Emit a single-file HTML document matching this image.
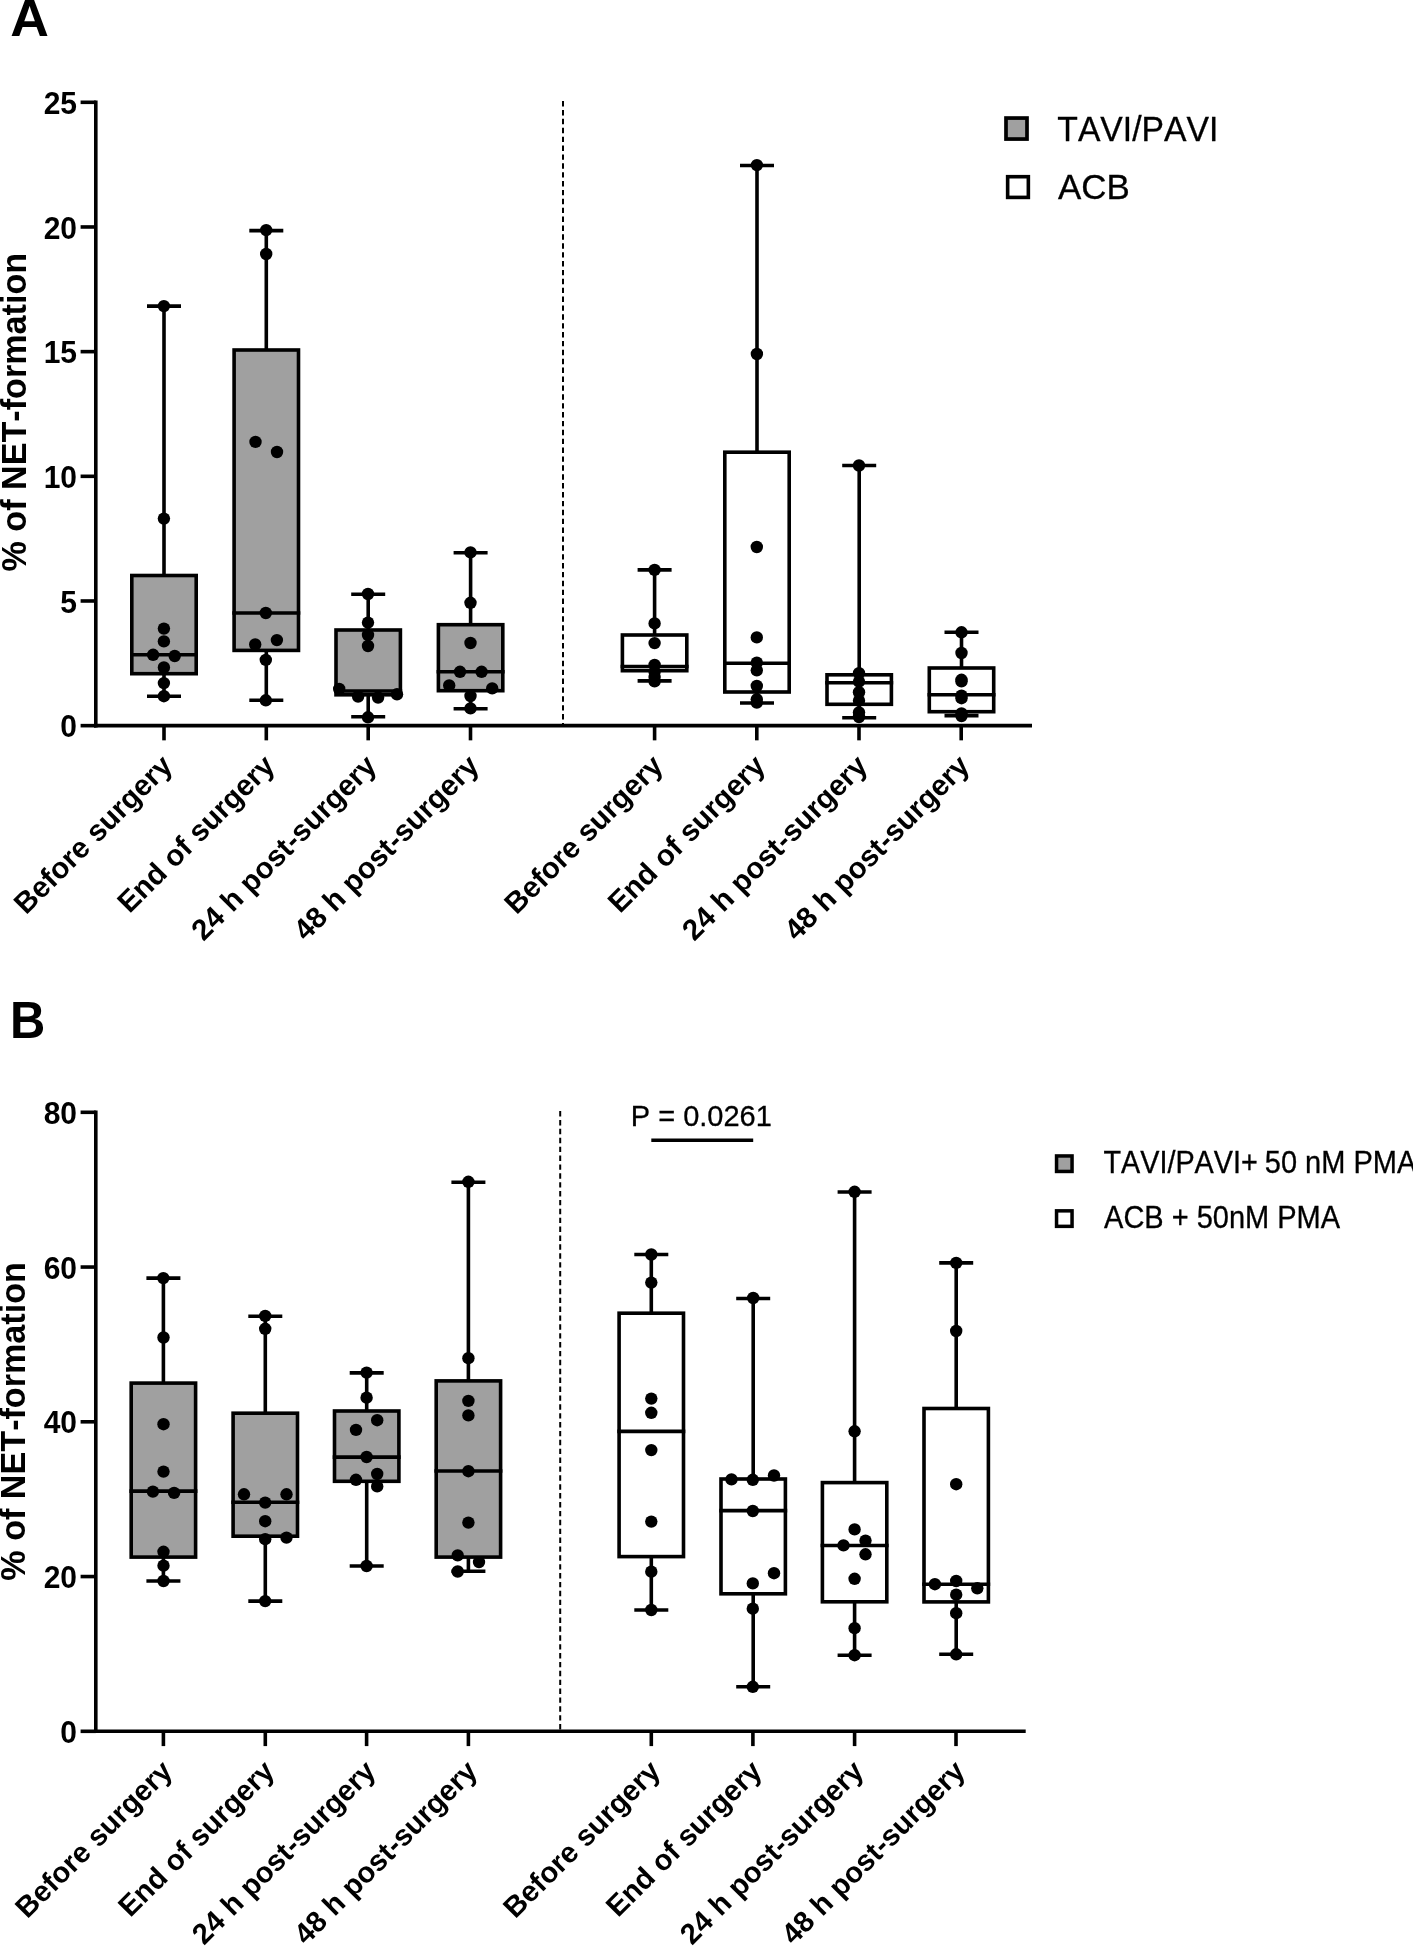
<!DOCTYPE html>
<html><head><meta charset="utf-8"><title>NET-formation box plots</title>
<style>
html,body{margin:0;padding:0;background:#fff;}
body{width:1413px;height:1946px;overflow:hidden;font-family:"Liberation Sans",sans-serif;}
svg{display:block;will-change:transform;}
svg text{font-family:"Liberation Sans",sans-serif;fill:#000;font-kerning:none;}
</style></head>
<body>
<svg width="1413" height="1946" viewBox="0 0 1413 1946">
<rect x="0" y="0" width="1413" height="1946" fill="#fff"/>
<text x="0" y="0" font-size="51.5" font-weight="bold" text-anchor="start" transform="translate(10.20,36.10) scale(1.04,1.0)">A</text>
<line x1="563.00" y1="101.10" x2="563.00" y2="725.65" stroke="#000" stroke-width="2.0" stroke-dasharray="5.4 3.484"/>
<line x1="164.00" y1="306.10" x2="164.00" y2="575.50" stroke="#000" stroke-width="3.6" />
<line x1="164.00" y1="673.70" x2="164.00" y2="696.20" stroke="#000" stroke-width="3.6" />
<line x1="147.00" y1="306.10" x2="181.00" y2="306.10" stroke="#000" stroke-width="3.6" />
<line x1="147.00" y1="696.20" x2="181.00" y2="696.20" stroke="#000" stroke-width="3.6" />
<rect x="131.80" y="575.50" width="64.40" height="98.20" fill="#a0a0a0" stroke="#000" stroke-width="3.6"/>
<line x1="130.00" y1="654.80" x2="198.00" y2="654.80" stroke="#000" stroke-width="3.6" />
<circle cx="163.90" cy="306.10" r="6.2" fill="#000"/>
<circle cx="163.90" cy="518.60" r="6.2" fill="#000"/>
<circle cx="163.90" cy="628.60" r="6.2" fill="#000"/>
<circle cx="163.90" cy="641.40" r="6.2" fill="#000"/>
<circle cx="153.10" cy="654.80" r="6.2" fill="#000"/>
<circle cx="174.70" cy="656.00" r="6.2" fill="#000"/>
<circle cx="163.90" cy="667.50" r="6.2" fill="#000"/>
<circle cx="163.90" cy="683.10" r="6.2" fill="#000"/>
<circle cx="163.90" cy="696.20" r="6.2" fill="#000"/>
<line x1="266.30" y1="230.60" x2="266.30" y2="350.00" stroke="#000" stroke-width="3.6" />
<line x1="266.30" y1="650.40" x2="266.30" y2="700.30" stroke="#000" stroke-width="3.6" />
<line x1="249.30" y1="230.60" x2="283.30" y2="230.60" stroke="#000" stroke-width="3.6" />
<line x1="249.30" y1="700.30" x2="283.30" y2="700.30" stroke="#000" stroke-width="3.6" />
<rect x="234.10" y="350.00" width="64.40" height="300.40" fill="#a0a0a0" stroke="#000" stroke-width="3.6"/>
<line x1="232.30" y1="613.00" x2="300.30" y2="613.00" stroke="#000" stroke-width="3.6" />
<circle cx="266.20" cy="230.10" r="6.2" fill="#000"/>
<circle cx="266.20" cy="254.00" r="6.2" fill="#000"/>
<circle cx="255.50" cy="441.90" r="6.2" fill="#000"/>
<circle cx="277.00" cy="452.00" r="6.2" fill="#000"/>
<circle cx="265.80" cy="613.00" r="6.2" fill="#000"/>
<circle cx="276.90" cy="640.10" r="6.2" fill="#000"/>
<circle cx="255.20" cy="644.50" r="6.2" fill="#000"/>
<circle cx="265.80" cy="659.90" r="6.2" fill="#000"/>
<circle cx="265.80" cy="700.30" r="6.2" fill="#000"/>
<line x1="368.20" y1="594.30" x2="368.20" y2="630.00" stroke="#000" stroke-width="3.6" />
<line x1="368.20" y1="694.80" x2="368.20" y2="716.70" stroke="#000" stroke-width="3.6" />
<line x1="351.20" y1="594.30" x2="385.20" y2="594.30" stroke="#000" stroke-width="3.6" />
<line x1="351.20" y1="716.70" x2="385.20" y2="716.70" stroke="#000" stroke-width="3.6" />
<rect x="336.00" y="630.00" width="64.40" height="64.80" fill="#a0a0a0" stroke="#000" stroke-width="3.6"/>
<line x1="334.20" y1="691.00" x2="402.20" y2="691.00" stroke="#000" stroke-width="3.6" />
<circle cx="368.00" cy="594.00" r="6.2" fill="#000"/>
<circle cx="368.00" cy="622.60" r="6.2" fill="#000"/>
<circle cx="368.00" cy="635.00" r="6.2" fill="#000"/>
<circle cx="368.00" cy="646.00" r="6.2" fill="#000"/>
<circle cx="339.20" cy="689.00" r="6.2" fill="#000"/>
<circle cx="358.10" cy="696.60" r="6.2" fill="#000"/>
<circle cx="378.10" cy="697.50" r="6.2" fill="#000"/>
<circle cx="397.00" cy="694.30" r="6.2" fill="#000"/>
<circle cx="368.00" cy="717.30" r="6.2" fill="#000"/>
<line x1="470.60" y1="552.70" x2="470.60" y2="624.70" stroke="#000" stroke-width="3.6" />
<line x1="470.60" y1="690.70" x2="470.60" y2="708.80" stroke="#000" stroke-width="3.6" />
<line x1="453.60" y1="552.70" x2="487.60" y2="552.70" stroke="#000" stroke-width="3.6" />
<line x1="453.60" y1="708.80" x2="487.60" y2="708.80" stroke="#000" stroke-width="3.6" />
<rect x="438.40" y="624.70" width="64.40" height="66.00" fill="#a0a0a0" stroke="#000" stroke-width="3.6"/>
<line x1="436.60" y1="671.80" x2="504.60" y2="671.80" stroke="#000" stroke-width="3.6" />
<circle cx="470.50" cy="552.40" r="6.2" fill="#000"/>
<circle cx="470.50" cy="602.80" r="6.2" fill="#000"/>
<circle cx="470.50" cy="643.00" r="6.2" fill="#000"/>
<circle cx="460.00" cy="671.80" r="6.2" fill="#000"/>
<circle cx="481.60" cy="671.80" r="6.2" fill="#000"/>
<circle cx="449.20" cy="685.40" r="6.2" fill="#000"/>
<circle cx="492.20" cy="688.40" r="6.2" fill="#000"/>
<circle cx="470.50" cy="696.00" r="6.2" fill="#000"/>
<circle cx="470.50" cy="708.40" r="6.2" fill="#000"/>
<line x1="654.60" y1="569.90" x2="654.60" y2="635.00" stroke="#000" stroke-width="3.6" />
<line x1="654.60" y1="670.70" x2="654.60" y2="680.90" stroke="#000" stroke-width="3.6" />
<line x1="637.60" y1="569.90" x2="671.60" y2="569.90" stroke="#000" stroke-width="3.6" />
<line x1="637.60" y1="680.90" x2="671.60" y2="680.90" stroke="#000" stroke-width="3.6" />
<rect x="622.40" y="635.00" width="64.40" height="35.70" fill="#fff" stroke="#000" stroke-width="3.6"/>
<line x1="620.60" y1="666.50" x2="688.60" y2="666.50" stroke="#000" stroke-width="3.6" />
<circle cx="654.60" cy="569.90" r="6.2" fill="#000"/>
<circle cx="654.60" cy="623.40" r="6.2" fill="#000"/>
<circle cx="654.60" cy="643.10" r="6.2" fill="#000"/>
<circle cx="654.60" cy="665.00" r="6.2" fill="#000"/>
<circle cx="654.60" cy="671.80" r="6.2" fill="#000"/>
<circle cx="654.60" cy="677.10" r="6.2" fill="#000"/>
<circle cx="654.60" cy="681.40" r="6.2" fill="#000"/>
<line x1="757.00" y1="165.50" x2="757.00" y2="452.20" stroke="#000" stroke-width="3.6" />
<line x1="757.00" y1="692.00" x2="757.00" y2="703.00" stroke="#000" stroke-width="3.6" />
<line x1="740.00" y1="165.50" x2="774.00" y2="165.50" stroke="#000" stroke-width="3.6" />
<line x1="740.00" y1="703.00" x2="774.00" y2="703.00" stroke="#000" stroke-width="3.6" />
<rect x="724.80" y="452.20" width="64.40" height="239.80" fill="#fff" stroke="#000" stroke-width="3.6"/>
<line x1="723.00" y1="663.30" x2="791.00" y2="663.30" stroke="#000" stroke-width="3.6" />
<circle cx="756.90" cy="165.10" r="6.2" fill="#000"/>
<circle cx="756.90" cy="354.00" r="6.2" fill="#000"/>
<circle cx="756.80" cy="547.00" r="6.2" fill="#000"/>
<circle cx="756.80" cy="637.40" r="6.2" fill="#000"/>
<circle cx="756.80" cy="662.70" r="6.2" fill="#000"/>
<circle cx="756.80" cy="670.30" r="6.2" fill="#000"/>
<circle cx="756.80" cy="686.00" r="6.2" fill="#000"/>
<circle cx="756.80" cy="699.30" r="6.2" fill="#000"/>
<circle cx="756.80" cy="702.60" r="6.2" fill="#000"/>
<line x1="859.20" y1="465.50" x2="859.20" y2="674.80" stroke="#000" stroke-width="3.6" />
<line x1="859.20" y1="704.30" x2="859.20" y2="717.70" stroke="#000" stroke-width="3.6" />
<line x1="842.20" y1="465.50" x2="876.20" y2="465.50" stroke="#000" stroke-width="3.6" />
<line x1="842.20" y1="717.70" x2="876.20" y2="717.70" stroke="#000" stroke-width="3.6" />
<rect x="827.00" y="674.80" width="64.40" height="29.50" fill="#fff" stroke="#000" stroke-width="3.6"/>
<line x1="825.20" y1="682.70" x2="893.20" y2="682.70" stroke="#000" stroke-width="3.6" />
<circle cx="859.00" cy="465.50" r="6.2" fill="#000"/>
<circle cx="859.00" cy="673.10" r="6.2" fill="#000"/>
<circle cx="859.00" cy="681.60" r="6.2" fill="#000"/>
<circle cx="859.00" cy="692.20" r="6.2" fill="#000"/>
<circle cx="859.00" cy="700.70" r="6.2" fill="#000"/>
<circle cx="859.00" cy="712.40" r="6.2" fill="#000"/>
<circle cx="859.00" cy="717.00" r="6.2" fill="#000"/>
<line x1="961.50" y1="632.30" x2="961.50" y2="668.00" stroke="#000" stroke-width="3.6" />
<line x1="961.50" y1="711.70" x2="961.50" y2="715.60" stroke="#000" stroke-width="3.6" />
<line x1="944.50" y1="632.30" x2="978.50" y2="632.30" stroke="#000" stroke-width="3.6" />
<line x1="944.50" y1="715.60" x2="978.50" y2="715.60" stroke="#000" stroke-width="3.6" />
<rect x="929.30" y="668.00" width="64.40" height="43.70" fill="#fff" stroke="#000" stroke-width="3.6"/>
<line x1="927.50" y1="694.80" x2="995.50" y2="694.80" stroke="#000" stroke-width="3.6" />
<circle cx="961.50" cy="632.30" r="6.2" fill="#000"/>
<circle cx="961.50" cy="653.00" r="6.2" fill="#000"/>
<circle cx="961.50" cy="679.80" r="6.2" fill="#000"/>
<circle cx="961.50" cy="681.40" r="6.2" fill="#000"/>
<circle cx="961.50" cy="695.60" r="6.2" fill="#000"/>
<circle cx="961.50" cy="698.20" r="6.2" fill="#000"/>
<circle cx="961.50" cy="713.50" r="6.2" fill="#000"/>
<circle cx="961.50" cy="716.10" r="6.2" fill="#000"/>
<line x1="95.80" y1="100.45" x2="95.80" y2="727.45" stroke="#000" stroke-width="3.6" />
<line x1="94.00" y1="725.65" x2="1032.00" y2="725.65" stroke="#000" stroke-width="3.6" />
<line x1="80.60" y1="725.65" x2="95.80" y2="725.65" stroke="#000" stroke-width="3.6" />
<text x="0" y="0" font-size="30" font-weight="bold" text-anchor="end" transform="translate(77.00,737.25) scale(1.0,1.04)">0</text>
<line x1="80.60" y1="600.98" x2="95.80" y2="600.98" stroke="#000" stroke-width="3.6" />
<text x="0" y="0" font-size="30" font-weight="bold" text-anchor="end" transform="translate(77.00,612.58) scale(1.0,1.04)">5</text>
<line x1="80.60" y1="476.31" x2="95.80" y2="476.31" stroke="#000" stroke-width="3.6" />
<text x="0" y="0" font-size="30" font-weight="bold" text-anchor="end" transform="translate(77.00,487.91) scale(1.0,1.04)">10</text>
<line x1="80.60" y1="351.64" x2="95.80" y2="351.64" stroke="#000" stroke-width="3.6" />
<text x="0" y="0" font-size="30" font-weight="bold" text-anchor="end" transform="translate(77.00,363.24) scale(1.0,1.04)">15</text>
<line x1="80.60" y1="226.97" x2="95.80" y2="226.97" stroke="#000" stroke-width="3.6" />
<text x="0" y="0" font-size="30" font-weight="bold" text-anchor="end" transform="translate(77.00,238.57) scale(1.0,1.04)">20</text>
<line x1="80.60" y1="102.30" x2="95.80" y2="102.30" stroke="#000" stroke-width="3.6" />
<text x="0" y="0" font-size="30" font-weight="bold" text-anchor="end" transform="translate(77.00,113.90) scale(1.0,1.04)">25</text>
<line x1="164.00" y1="725.65" x2="164.00" y2="740.35" stroke="#000" stroke-width="3.6" />
<text x="0.00" y="0.00" font-size="29.45" font-weight="bold" text-anchor="end" transform="translate(174.00,767.45) rotate(-45)">Before surgery</text>
<line x1="266.30" y1="725.65" x2="266.30" y2="740.35" stroke="#000" stroke-width="3.6" />
<text x="0.00" y="0.00" font-size="29.45" font-weight="bold" text-anchor="end" transform="translate(276.30,767.45) rotate(-45)">End of surgery</text>
<line x1="368.20" y1="725.65" x2="368.20" y2="740.35" stroke="#000" stroke-width="3.6" />
<text x="0.00" y="0.00" font-size="29.45" font-weight="bold" text-anchor="end" transform="translate(378.20,767.45) rotate(-45)">24 h post-surgery</text>
<line x1="470.50" y1="725.65" x2="470.50" y2="740.35" stroke="#000" stroke-width="3.6" />
<text x="0.00" y="0.00" font-size="29.45" font-weight="bold" text-anchor="end" transform="translate(480.50,767.45) rotate(-45)">48 h post-surgery</text>
<line x1="654.60" y1="725.65" x2="654.60" y2="740.35" stroke="#000" stroke-width="3.6" />
<text x="0.00" y="0.00" font-size="29.45" font-weight="bold" text-anchor="end" transform="translate(664.60,767.45) rotate(-45)">Before surgery</text>
<line x1="756.80" y1="725.65" x2="756.80" y2="740.35" stroke="#000" stroke-width="3.6" />
<text x="0.00" y="0.00" font-size="29.45" font-weight="bold" text-anchor="end" transform="translate(766.80,767.45) rotate(-45)">End of surgery</text>
<line x1="859.00" y1="725.65" x2="859.00" y2="740.35" stroke="#000" stroke-width="3.6" />
<text x="0.00" y="0.00" font-size="29.45" font-weight="bold" text-anchor="end" transform="translate(869.00,767.45) rotate(-45)">24 h post-surgery</text>
<line x1="961.20" y1="725.65" x2="961.20" y2="740.35" stroke="#000" stroke-width="3.6" />
<text x="0.00" y="0.00" font-size="29.45" font-weight="bold" text-anchor="end" transform="translate(971.20,767.45) rotate(-45)">48 h post-surgery</text>
<text x="0" y="0" font-size="34.15" font-weight="bold" text-anchor="middle" transform="translate(25.70,412.20) rotate(-90) scale(1.0,1.015)">% of NET-formation</text>
<text x="0" y="0" font-size="51.5" font-weight="bold" text-anchor="start" transform="translate(9.95,1037.80) scale(0.95,1.0)">B</text>
<line x1="560.20" y1="1111.10" x2="560.20" y2="1731.30" stroke="#000" stroke-width="2.0" stroke-dasharray="5.4 3.484"/>
<line x1="163.40" y1="1278.10" x2="163.40" y2="1383.10" stroke="#000" stroke-width="3.6" />
<line x1="163.40" y1="1557.10" x2="163.40" y2="1581.00" stroke="#000" stroke-width="3.6" />
<line x1="146.40" y1="1278.10" x2="180.40" y2="1278.10" stroke="#000" stroke-width="3.6" />
<line x1="146.40" y1="1581.00" x2="180.40" y2="1581.00" stroke="#000" stroke-width="3.6" />
<rect x="131.20" y="1383.10" width="64.40" height="174.00" fill="#a0a0a0" stroke="#000" stroke-width="3.6"/>
<line x1="129.40" y1="1491.10" x2="197.40" y2="1491.10" stroke="#000" stroke-width="3.6" />
<circle cx="163.30" cy="1278.10" r="6.2" fill="#000"/>
<circle cx="163.50" cy="1337.50" r="6.2" fill="#000"/>
<circle cx="163.50" cy="1424.20" r="6.2" fill="#000"/>
<circle cx="163.50" cy="1471.60" r="6.2" fill="#000"/>
<circle cx="152.90" cy="1491.60" r="6.2" fill="#000"/>
<circle cx="174.10" cy="1492.90" r="6.2" fill="#000"/>
<circle cx="163.50" cy="1551.80" r="6.2" fill="#000"/>
<circle cx="163.50" cy="1565.70" r="6.2" fill="#000"/>
<circle cx="163.50" cy="1581.00" r="6.2" fill="#000"/>
<line x1="265.30" y1="1316.30" x2="265.30" y2="1413.20" stroke="#000" stroke-width="3.6" />
<line x1="265.30" y1="1536.20" x2="265.30" y2="1601.10" stroke="#000" stroke-width="3.6" />
<line x1="248.30" y1="1316.30" x2="282.30" y2="1316.30" stroke="#000" stroke-width="3.6" />
<line x1="248.30" y1="1601.10" x2="282.30" y2="1601.10" stroke="#000" stroke-width="3.6" />
<rect x="233.10" y="1413.20" width="64.40" height="123.00" fill="#a0a0a0" stroke="#000" stroke-width="3.6"/>
<line x1="231.30" y1="1502.20" x2="299.30" y2="1502.20" stroke="#000" stroke-width="3.6" />
<circle cx="265.20" cy="1315.90" r="6.2" fill="#000"/>
<circle cx="265.20" cy="1328.80" r="6.2" fill="#000"/>
<circle cx="244.00" cy="1494.30" r="6.2" fill="#000"/>
<circle cx="286.50" cy="1494.30" r="6.2" fill="#000"/>
<circle cx="265.20" cy="1502.60" r="6.2" fill="#000"/>
<circle cx="265.20" cy="1521.20" r="6.2" fill="#000"/>
<circle cx="265.20" cy="1539.20" r="6.2" fill="#000"/>
<circle cx="286.50" cy="1537.60" r="6.2" fill="#000"/>
<circle cx="265.20" cy="1601.10" r="6.2" fill="#000"/>
<line x1="366.70" y1="1372.90" x2="366.70" y2="1411.00" stroke="#000" stroke-width="3.6" />
<line x1="366.70" y1="1481.30" x2="366.70" y2="1566.00" stroke="#000" stroke-width="3.6" />
<line x1="349.70" y1="1372.90" x2="383.70" y2="1372.90" stroke="#000" stroke-width="3.6" />
<line x1="349.70" y1="1566.00" x2="383.70" y2="1566.00" stroke="#000" stroke-width="3.6" />
<rect x="334.50" y="1411.00" width="64.40" height="70.30" fill="#a0a0a0" stroke="#000" stroke-width="3.6"/>
<line x1="332.70" y1="1457.10" x2="400.70" y2="1457.10" stroke="#000" stroke-width="3.6" />
<circle cx="366.60" cy="1372.60" r="6.2" fill="#000"/>
<circle cx="366.60" cy="1397.70" r="6.2" fill="#000"/>
<circle cx="377.20" cy="1420.20" r="6.2" fill="#000"/>
<circle cx="356.00" cy="1429.90" r="6.2" fill="#000"/>
<circle cx="366.60" cy="1457.00" r="6.2" fill="#000"/>
<circle cx="377.20" cy="1474.00" r="6.2" fill="#000"/>
<circle cx="356.00" cy="1479.80" r="6.2" fill="#000"/>
<circle cx="377.20" cy="1486.40" r="6.2" fill="#000"/>
<circle cx="366.60" cy="1566.00" r="6.2" fill="#000"/>
<line x1="468.40" y1="1182.20" x2="468.40" y2="1380.90" stroke="#000" stroke-width="3.6" />
<line x1="468.40" y1="1557.10" x2="468.40" y2="1571.30" stroke="#000" stroke-width="3.6" />
<line x1="451.40" y1="1182.20" x2="485.40" y2="1182.20" stroke="#000" stroke-width="3.6" />
<line x1="451.40" y1="1571.30" x2="485.40" y2="1571.30" stroke="#000" stroke-width="3.6" />
<rect x="436.20" y="1380.90" width="64.40" height="176.20" fill="#a0a0a0" stroke="#000" stroke-width="3.6"/>
<line x1="434.40" y1="1471.00" x2="502.40" y2="1471.00" stroke="#000" stroke-width="3.6" />
<circle cx="468.40" cy="1181.80" r="6.2" fill="#000"/>
<circle cx="468.40" cy="1358.20" r="6.2" fill="#000"/>
<circle cx="468.40" cy="1400.90" r="6.2" fill="#000"/>
<circle cx="468.40" cy="1415.40" r="6.2" fill="#000"/>
<circle cx="468.40" cy="1471.20" r="6.2" fill="#000"/>
<circle cx="468.40" cy="1522.60" r="6.2" fill="#000"/>
<circle cx="457.70" cy="1555.40" r="6.2" fill="#000"/>
<circle cx="479.00" cy="1562.10" r="6.2" fill="#000"/>
<circle cx="457.70" cy="1571.50" r="6.2" fill="#000"/>
<line x1="651.30" y1="1254.50" x2="651.30" y2="1313.20" stroke="#000" stroke-width="3.6" />
<line x1="651.30" y1="1556.60" x2="651.30" y2="1610.00" stroke="#000" stroke-width="3.6" />
<line x1="634.30" y1="1254.50" x2="668.30" y2="1254.50" stroke="#000" stroke-width="3.6" />
<line x1="634.30" y1="1610.00" x2="668.30" y2="1610.00" stroke="#000" stroke-width="3.6" />
<rect x="619.10" y="1313.20" width="64.40" height="243.40" fill="#fff" stroke="#000" stroke-width="3.6"/>
<line x1="617.30" y1="1431.40" x2="685.30" y2="1431.40" stroke="#000" stroke-width="3.6" />
<circle cx="651.30" cy="1254.50" r="6.2" fill="#000"/>
<circle cx="651.30" cy="1282.60" r="6.2" fill="#000"/>
<circle cx="651.30" cy="1398.60" r="6.2" fill="#000"/>
<circle cx="651.30" cy="1412.80" r="6.2" fill="#000"/>
<circle cx="651.30" cy="1450.10" r="6.2" fill="#000"/>
<circle cx="651.30" cy="1521.60" r="6.2" fill="#000"/>
<circle cx="651.30" cy="1571.70" r="6.2" fill="#000"/>
<circle cx="651.30" cy="1610.00" r="6.2" fill="#000"/>
<line x1="753.20" y1="1298.50" x2="753.20" y2="1479.00" stroke="#000" stroke-width="3.6" />
<line x1="753.20" y1="1593.80" x2="753.20" y2="1686.80" stroke="#000" stroke-width="3.6" />
<line x1="736.20" y1="1298.50" x2="770.20" y2="1298.50" stroke="#000" stroke-width="3.6" />
<line x1="736.20" y1="1686.80" x2="770.20" y2="1686.80" stroke="#000" stroke-width="3.6" />
<rect x="721.00" y="1479.00" width="64.40" height="114.80" fill="#fff" stroke="#000" stroke-width="3.6"/>
<line x1="719.20" y1="1510.60" x2="787.20" y2="1510.60" stroke="#000" stroke-width="3.6" />
<circle cx="753.20" cy="1298.00" r="6.2" fill="#000"/>
<circle cx="731.50" cy="1479.40" r="6.2" fill="#000"/>
<circle cx="752.80" cy="1479.80" r="6.2" fill="#000"/>
<circle cx="774.00" cy="1475.50" r="6.2" fill="#000"/>
<circle cx="752.80" cy="1511.00" r="6.2" fill="#000"/>
<circle cx="774.00" cy="1573.20" r="6.2" fill="#000"/>
<circle cx="752.80" cy="1583.40" r="6.2" fill="#000"/>
<circle cx="752.80" cy="1608.70" r="6.2" fill="#000"/>
<circle cx="752.80" cy="1686.80" r="6.2" fill="#000"/>
<line x1="854.60" y1="1192.00" x2="854.60" y2="1482.60" stroke="#000" stroke-width="3.6" />
<line x1="854.60" y1="1601.80" x2="854.60" y2="1655.20" stroke="#000" stroke-width="3.6" />
<line x1="837.60" y1="1192.00" x2="871.60" y2="1192.00" stroke="#000" stroke-width="3.6" />
<line x1="837.60" y1="1655.20" x2="871.60" y2="1655.20" stroke="#000" stroke-width="3.6" />
<rect x="822.40" y="1482.60" width="64.40" height="119.20" fill="#fff" stroke="#000" stroke-width="3.6"/>
<line x1="820.60" y1="1545.50" x2="888.60" y2="1545.50" stroke="#000" stroke-width="3.6" />
<circle cx="854.60" cy="1191.80" r="6.2" fill="#000"/>
<circle cx="854.60" cy="1431.30" r="6.2" fill="#000"/>
<circle cx="854.60" cy="1529.40" r="6.2" fill="#000"/>
<circle cx="865.50" cy="1540.60" r="6.2" fill="#000"/>
<circle cx="843.50" cy="1545.40" r="6.2" fill="#000"/>
<circle cx="865.50" cy="1554.30" r="6.2" fill="#000"/>
<circle cx="854.60" cy="1578.80" r="6.2" fill="#000"/>
<circle cx="854.60" cy="1628.20" r="6.2" fill="#000"/>
<circle cx="854.60" cy="1655.20" r="6.2" fill="#000"/>
<line x1="956.20" y1="1262.90" x2="956.20" y2="1408.50" stroke="#000" stroke-width="3.6" />
<line x1="956.20" y1="1601.90" x2="956.20" y2="1654.30" stroke="#000" stroke-width="3.6" />
<line x1="939.20" y1="1262.90" x2="973.20" y2="1262.90" stroke="#000" stroke-width="3.6" />
<line x1="939.20" y1="1654.30" x2="973.20" y2="1654.30" stroke="#000" stroke-width="3.6" />
<rect x="924.00" y="1408.50" width="64.40" height="193.40" fill="#fff" stroke="#000" stroke-width="3.6"/>
<line x1="922.20" y1="1584.20" x2="990.20" y2="1584.20" stroke="#000" stroke-width="3.6" />
<circle cx="956.20" cy="1262.90" r="6.2" fill="#000"/>
<circle cx="956.20" cy="1331.00" r="6.2" fill="#000"/>
<circle cx="956.20" cy="1484.20" r="6.2" fill="#000"/>
<circle cx="934.90" cy="1584.20" r="6.2" fill="#000"/>
<circle cx="956.20" cy="1581.00" r="6.2" fill="#000"/>
<circle cx="977.30" cy="1588.30" r="6.2" fill="#000"/>
<circle cx="956.20" cy="1594.70" r="6.2" fill="#000"/>
<circle cx="956.20" cy="1613.20" r="6.2" fill="#000"/>
<circle cx="956.20" cy="1654.30" r="6.2" fill="#000"/>
<line x1="95.80" y1="1110.45" x2="95.80" y2="1733.10" stroke="#000" stroke-width="3.6" />
<line x1="94.00" y1="1731.30" x2="1025.70" y2="1731.30" stroke="#000" stroke-width="3.6" />
<line x1="80.60" y1="1731.30" x2="95.80" y2="1731.30" stroke="#000" stroke-width="3.6" />
<text x="0" y="0" font-size="30" font-weight="bold" text-anchor="end" transform="translate(77.00,1742.90) scale(1.0,1.04)">0</text>
<line x1="80.60" y1="1576.55" x2="95.80" y2="1576.55" stroke="#000" stroke-width="3.6" />
<text x="0" y="0" font-size="30" font-weight="bold" text-anchor="end" transform="translate(77.00,1588.15) scale(1.0,1.04)">20</text>
<line x1="80.60" y1="1421.80" x2="95.80" y2="1421.80" stroke="#000" stroke-width="3.6" />
<text x="0" y="0" font-size="30" font-weight="bold" text-anchor="end" transform="translate(77.00,1433.40) scale(1.0,1.04)">40</text>
<line x1="80.60" y1="1267.05" x2="95.80" y2="1267.05" stroke="#000" stroke-width="3.6" />
<text x="0" y="0" font-size="30" font-weight="bold" text-anchor="end" transform="translate(77.00,1278.65) scale(1.0,1.04)">60</text>
<line x1="80.60" y1="1112.30" x2="95.80" y2="1112.30" stroke="#000" stroke-width="3.6" />
<text x="0" y="0" font-size="30" font-weight="bold" text-anchor="end" transform="translate(77.00,1123.90) scale(1.0,1.04)">80</text>
<line x1="163.40" y1="1731.30" x2="163.40" y2="1746.10" stroke="#000" stroke-width="3.6" />
<text x="0.00" y="0.00" font-size="29.2" font-weight="bold" text-anchor="end" transform="translate(174.10,1772.70) rotate(-45)">Before surgery</text>
<line x1="265.30" y1="1731.30" x2="265.30" y2="1746.10" stroke="#000" stroke-width="3.6" />
<text x="0.00" y="0.00" font-size="29.2" font-weight="bold" text-anchor="end" transform="translate(276.00,1772.70) rotate(-45)">End of surgery</text>
<line x1="366.60" y1="1731.30" x2="366.60" y2="1746.10" stroke="#000" stroke-width="3.6" />
<text x="0.00" y="0.00" font-size="29.2" font-weight="bold" text-anchor="end" transform="translate(377.30,1772.70) rotate(-45)">24 h post-surgery</text>
<line x1="468.40" y1="1731.30" x2="468.40" y2="1746.10" stroke="#000" stroke-width="3.6" />
<text x="0.00" y="0.00" font-size="29.2" font-weight="bold" text-anchor="end" transform="translate(479.10,1772.70) rotate(-45)">48 h post-surgery</text>
<line x1="651.30" y1="1731.30" x2="651.30" y2="1746.10" stroke="#000" stroke-width="3.6" />
<text x="0.00" y="0.00" font-size="29.2" font-weight="bold" text-anchor="end" transform="translate(662.00,1772.70) rotate(-45)">Before surgery</text>
<line x1="752.90" y1="1731.30" x2="752.90" y2="1746.10" stroke="#000" stroke-width="3.6" />
<text x="0.00" y="0.00" font-size="29.2" font-weight="bold" text-anchor="end" transform="translate(763.60,1772.70) rotate(-45)">End of surgery</text>
<line x1="854.60" y1="1731.30" x2="854.60" y2="1746.10" stroke="#000" stroke-width="3.6" />
<text x="0.00" y="0.00" font-size="29.2" font-weight="bold" text-anchor="end" transform="translate(865.30,1772.70) rotate(-45)">24 h post-surgery</text>
<line x1="956.00" y1="1731.30" x2="956.00" y2="1746.10" stroke="#000" stroke-width="3.6" />
<text x="0.00" y="0.00" font-size="29.2" font-weight="bold" text-anchor="end" transform="translate(966.70,1772.70) rotate(-45)">48 h post-surgery</text>
<text x="0" y="0" font-size="34.15" font-weight="bold" text-anchor="middle" transform="translate(25.40,1421.40) rotate(-90) scale(1.0,1.015)">% of NET-formation</text>
<rect x="1006.00" y="118.05" width="21.00" height="21.00" fill="#a0a0a0" stroke="#000" stroke-width="3.7"/>
<text x="0" y="0" font-size="33.7" font-weight="normal" text-anchor="start" stroke="#000" stroke-width="0.3" transform="translate(1057.30,140.90) scale(1.0,1.05)">TAVI/PAVI</text>
<rect x="1007.65" y="176.70" width="20.70" height="20.70" fill="#fff" stroke="#000" stroke-width="3.6"/>
<text x="0" y="0" font-size="33.9" font-weight="normal" text-anchor="start" stroke="#000" stroke-width="0.3" transform="translate(1057.90,199.10) scale(1.03,1.05)">ACB</text>
<rect x="1056.55" y="1155.95" width="15.50" height="15.50" fill="#a0a0a0" stroke="#000" stroke-width="3.5"/>
<text x="0" y="0" font-size="29" font-weight="normal" text-anchor="start" stroke="#000" stroke-width="0.3" transform="translate(1103.40,1172.90) scale(0.993,1.07)">TAVI/PAVI+</text>
<text x="0" y="0" font-size="29" font-weight="normal" text-anchor="start" stroke="#000" stroke-width="0.3" transform="translate(1264.80,1172.90) scale(1.0,1.07)">50 nM PMA</text>
<rect x="1056.55" y="1210.85" width="15.50" height="15.50" fill="#fff" stroke="#000" stroke-width="3.5"/>
<text x="0" y="0" font-size="29" font-weight="normal" text-anchor="start" stroke="#000" stroke-width="0.3" transform="translate(1104.10,1227.80) scale(1.0,1.07)">ACB + 50nM PMA</text>
<text x="0" y="0" font-size="29" font-weight="normal" text-anchor="start" stroke="#000" stroke-width="0.3" transform="translate(630.80,1126.10) scale(1.0,1.02)">P = 0.0261</text>
<line x1="651.30" y1="1140.30" x2="753.20" y2="1140.30" stroke="#000" stroke-width="3.6" />
</svg>
</body></html>
